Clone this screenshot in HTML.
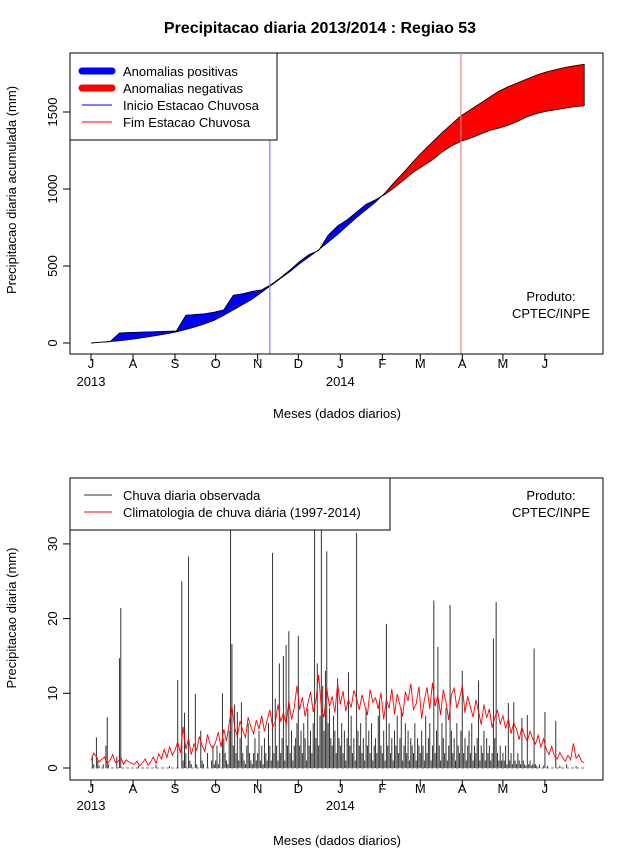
<!DOCTYPE html>
<html><head><meta charset="utf-8"><style>
body{margin:0;background:#fff}
svg{display:block;font-family:"Liberation Sans",sans-serif}
</style></head><body>
<svg id="c" width="640" height="850"></svg>
<script>
// ---- data ----
const monthLabels=["J","A","S","O","N","D","J","F","M","A","M","J"];
const monthStartDays=[0,31,62,92,123,153,184,215,243,274,304,335];
const yearLabels=["2013","2014"];
const topYTicks=[0,500,1000,1500];
const botYTicks=[0,10,20,30];
const cumDays=[0,7,14,21,28,35,42,49,56,63,70,77,84,91,98,105,112,119,126,133,140,147,154,161,168,175,182,189,196,203,210,217,224,231,238,245,252,259,266,273,280,287,294,301,308,315,322,329,336,343,350,357,364];
const cumClim=[0,5,10,15,22,30,40,50,60,72,88,105,125,148,180,215,250,285,330,375,420,465,515,560,605,655,705,760,815,865,915,975,1045,1110,1180,1245,1305,1365,1420,1475,1515,1555,1595,1635,1665,1690,1715,1740,1760,1775,1790,1800,1810];
const cumObs=[0,5,8,65,68,70,72,74,76,78,180,185,190,200,215,310,320,335,345,380,425,475,530,575,600,700,760,800,850,900,930,965,1010,1060,1110,1150,1190,1240,1280,1310,1330,1355,1380,1395,1415,1440,1470,1490,1505,1515,1525,1535,1540];
const rainyStartDay=132, rainyEndDay=273;
const obsDaily=[
0,1.5,0.5,0,4.1,1,0.3,0,0,0.5,0,3,6.8,0.5,0,0,0,0,0,1.5,0,14.7,21.4,0,0,0,0,0,0,0,0,
0,0,0,0,0.3,0,0,0,0,0,0,0,0,0,0,0,0,0.4,0,0,0,0,0,0,0,0,0,0.3,0,0,0,
0,0,11.8,0,0,25,1,7.4,2,0,28.3,1,0.5,0,0,9.9,0.5,0,0,5,1,0.5,0,0,2,0,0,1,3,0.5,
1,3,0.5,2,0,10,4,2,1,0.5,5,40,16.6,3,8.5,2,7.5,1,4,8.8,2,1,0.5,3,6,2,1,0.5,2,4,1,
2,5,1,3,0.5,4,2,1,6,3,1,28.8,2,9.3,3,1,14,2,4,15,1,16.5,3,18.3,2,5,1,3,4,6,
17.7,3,5,2,6,4,1,8,3,5,2,6,40,4,14,3,7,40,11,5,13,29,6,8,4,3,7,5,2,12,4,
3,6,2,5,1,4,12.8,3,7,2,4,1,31.5,5,3,6,2,4,1,8,3,5,2,6,1,3,4,2,7,9,3,
2,5,1,19.3,3,6,2,4,1,5,3,7,2,4,8,1,3,6,2,5,1,4,3,2,6,1,4,3,
2,5,3,1,7,2,4,6,1,3,22.4,2,5,16.2,3,1,6,4,2,8,1,3,21.8,5,2,4,1,6,3,2,5,
13,2,4,1,3,5,2,6,1,3,2,4,11.7,1,3,2,5,1,4,2,3,1,2,17.3,4,22.2,2,1,3,1,
2,1,3,0.5,8.7,1,2,0.5,8.8,1,0.5,2,1,0.5,6.7,1,0.5,0.3,7.1,0.5,1,0.3,0.5,16,0.5,0.3,0,0.5,0,0,0.3,
7.5,0,0.3,0,0,0,0,0,6.3,0,0,0.3,0,0,0,0,0.5,0,0,0,0,0,0,0.3,0,0,0,0,0,0];
const climEvery2Days=[
1,2,1.5,0.8,1.2,1.5,0.6,1,1.8,0.7,0.9,1.4,0.5,1.1,0.8,0.6,
0.5,0.9,0.3,0.7,1.2,0.4,0.8,1.5,0.6,1.9,1.2,2.5,1.4,2.8,1.7,
2.4,3.5,2,5.5,2.5,4,1.8,3.2,2.4,4.2,3,2.2,4.5,3.1,2.6,
3.5,4.8,2.8,5.2,3.6,6,8.3,5.5,4.2,6.3,5,4.1,6.8,5.5,4.6,6.4,
5.2,7,4.9,6.4,7.8,5.5,6.1,8.5,6.2,7.4,5.8,9,6.5,8.1,11,
7.8,9.5,6.9,8.6,10.2,7.5,9.1,12.5,8,6.8,10.7,8.2,9.6,7.4,11.3,
8.5,10.3,7.6,9.2,8.1,10.4,9.3,7.8,9.8,8.4,7.1,10.5,8.8,9.4,7.9,10.1,
6.5,9.2,8,10.6,7.2,9.9,8.4,6.9,10.2,9,11.3,7.8,8.6,10.9,
6.6,9.1,10.8,7.9,11.4,8.3,9.7,7.1,10.5,8.8,6.4,9.8,10.7,8,9.3,11,
7.4,9.6,8.2,6.8,9.1,7.6,5.8,8.5,6.7,7.9,5.4,6.8,7.7,5.9,7,
5.3,6.6,4.6,6.1,5.2,3.8,5.5,4.3,3.6,4.9,3.9,3.2,4.4,2.8,3.9,
2.5,1.8,2.9,1.6,1.2,2.1,1.4,0.9,1.7,1.1,3.3,1.3,1.8,0.9,0.7];

// ---- drawing ----
const svg=document.getElementById('c');
const NS='http://www.w3.org/2000/svg';
function mk(tag,attrs,parent){const e=document.createElementNS(NS,tag);for(const k in attrs)e.setAttribute(k,attrs[k]);(parent||svg).appendChild(e);return e;}
function txt(x,y,s,attrs){const t=mk('text',Object.assign({x:x,y:y,'font-size':13,fill:'#000'},attrs||{}));t.textContent=s;return t;}
const X0=91,PXD=1.355;
const xDay=d=>X0+d*PXD;
const yTop=v=>343-v*77/500;
const yBot=v=>768-v*7.47;

const title=txt(320,33,"Precipitacao diaria 2013/2014 : Regiao 53",{'text-anchor':'middle','font-size':16,'font-weight':'bold'});



function xAxis(yAx,yLab,yYear,yTitle,name){
  const g=mk('g',{});
  
  
  mk('line',{x1:xDay(0),x2:xDay(monthStartDays[11]),y1:yAx,y2:yAx,stroke:'#000'},g);
  monthStartDays.forEach((d,i)=>{
    mk('line',{x1:xDay(d),x2:xDay(d),y1:yAx,y2:yAx+7,stroke:'#000'},g);
    const t=txt(xDay(d),yLab,monthLabels[i],{'text-anchor':'middle'});g.appendChild(t);
    
    
  });
  [0,184].forEach((d,i)=>{const t=txt(xDay(d),yYear,yearLabels[i],{'text-anchor':'middle'});g.appendChild(t);});
  const tt=txt(337,yTitle,"Meses (dados diarios)",{'text-anchor':'middle'});
  
  
}
function yAxis(ticks,fy,name,titleStr,cy){
  const g=mk('g',{});
  
  
  mk('line',{x1:70,x2:70,y1:fy(ticks[0]),y2:fy(ticks[ticks.length-1]),stroke:'#000'},g);
  ticks.forEach(v=>{
    mk('line',{x1:63,x2:70,y1:fy(v),y2:fy(v),stroke:'#000'},g);
    const t=txt(57,fy(v),String(v),{'text-anchor':'middle',transform:`rotate(-90 57 ${fy(v)})`});g.appendChild(t);
    
    
  });
  const t=txt(16,cy,titleStr,{'text-anchor':'middle',transform:`rotate(-90 16 ${cy})`});
  
  
}

// ---- top panel ----
const topBox=mk('rect',{x:70,y:53,width:533,height:301,fill:'none',stroke:'#000'});


const areaG=mk('g',{});


for(let i=0;i<cumDays.length-1;i++){
  const d0=cumDays[i],d1=cumDays[i+1];
  const a0=cumObs[i]-cumClim[i],a1=cumObs[i+1]-cumClim[i+1];
  function quad(da,db,oa,ob,ca,cb,col){
    const p=mk('polygon',{points:`${xDay(da)},${yTop(oa)} ${xDay(db)},${yTop(ob)} ${xDay(db)},${yTop(cb)} ${xDay(da)},${yTop(ca)}`,fill:col,stroke:col,'stroke-width':0.5},areaG);
    
    
  }
  if(a0*a1<0){
    const t=a0/(a0-a1),dm=d0+t*(d1-d0),vm=cumClim[i]+t*(cumClim[i+1]-cumClim[i]);
    quad(d0,dm,cumObs[i],vm,cumClim[i],vm,a0>0?'#00f':'#f00');
    quad(dm,d1,vm,cumObs[i+1],vm,cumClim[i+1],a1>0?'#00f':'#f00');
  } else {
    const col=(a0+a1)>=0?'#00f':'#f00';
    quad(d0,d1,cumObs[i],cumObs[i+1],cumClim[i],cumClim[i+1],col);
  }
}
const obsLine=mk('polyline',{points:cumDays.map((d,i)=>`${xDay(d)},${yTop(cumObs[i])}`).join(' '),fill:'none',stroke:'#000','stroke-width':0.8});


const climLine=mk('polyline',{points:cumDays.map((d,i)=>`${xDay(d)},${yTop(cumClim[i])}`).join(' '),fill:'none',stroke:'#000','stroke-width':0.8});


const lineEnd=mk('line',{x1:xDay(364),x2:xDay(364),y1:yTop(cumObs[52]),y2:yTop(cumClim[52]),stroke:'#000','stroke-width':0.8});
const vs=mk('line',{x1:xDay(rainyStartDay),x2:xDay(rainyStartDay),y1:53,y2:354,stroke:'#7f7fff','stroke-width':1.2});


const ve=mk('line',{x1:xDay(rainyEndDay),x2:xDay(rainyEndDay),y1:53,y2:354,stroke:'#f08080','stroke-width':1.2});


xAxis(354,368,386,418,'top');
yAxis(topYTicks,yTop,'top',"Precipitacao diaria acumulada (mm)",190);
const lg1=mk('g',{});


mk('rect',{x:70,y:53,width:207,height:87,fill:'#fff',stroke:'#000'},lg1);
[['Anomalias positivas','#00f',7],['Anomalias negativas','#f00',7],['Inicio Estacao Chuvosa','#00f',1],['Fim Estacao Chuvosa','#f00',1]].forEach((e,i)=>{
  const y=71+i*17;
  mk('line',{x1:82,x2:112,y1:y,y2:y,stroke:e[1],'stroke-width':e[2],'stroke-linecap':e[2]>1?'round':'butt'},lg1);
  const t=txt(123,y+5,e[0]);lg1.appendChild(t);
  
  
});
const p1=txt(551,301,"Produto:",{'text-anchor':'middle'});


txt(551,318,"CPTEC/INPE",{'text-anchor':'middle'});

// ---- bottom panel ----
const botBox=mk('rect',{x:70,y:478,width:533,height:302,fill:'none',stroke:'#000'});


const clip=mk('clipPath',{id:'bc'});mk('rect',{x:70,y:478,width:533,height:302},clip);
const barsG=mk('g',{'clip-path':'url(#bc)'});


obsDaily.forEach((v,d)=>{
  if(v<=0)return;
  const b=mk('line',{x1:xDay(d),x2:xDay(d),y1:yBot(0),y2:yBot(v),stroke:'#333','stroke-width':1},barsG);
  
  
});
mk('line',{x1:xDay(0),x2:xDay(364),y1:yBot(0),y2:yBot(0),stroke:'#777','stroke-width':1,'stroke-dasharray':'3,2'});
const cl=mk('polyline',{points:climEvery2Days.map((v,i)=>`${xDay(i*2)},${yBot(v)}`).join(' '),fill:'none',stroke:'#f00','stroke-width':0.9});


xAxis(780,793,810,845,'bottom');
yAxis(botYTicks,yBot,'bottom',"Precipitacao diaria (mm)",618);
const lg2=mk('g',{});


mk('rect',{x:70,y:478,width:320,height:52,fill:'#fff',stroke:'#000'},lg2);
[['Chuva diaria observada','#333'],['Climatologia de chuva diária (1997-2014)','#f00']].forEach((e,i)=>{
  const y=495+i*17;
  mk('line',{x1:84,x2:112,y1:y,y2:y,stroke:e[1],'stroke-width':1},lg2);
  const t=txt(123,y+5,e[0]);lg2.appendChild(t);
  
  
});
const p2=txt(551,500,"Produto:",{'text-anchor':'middle'});


txt(551,517,"CPTEC/INPE",{'text-anchor':'middle'});
</script>
</body></html>
